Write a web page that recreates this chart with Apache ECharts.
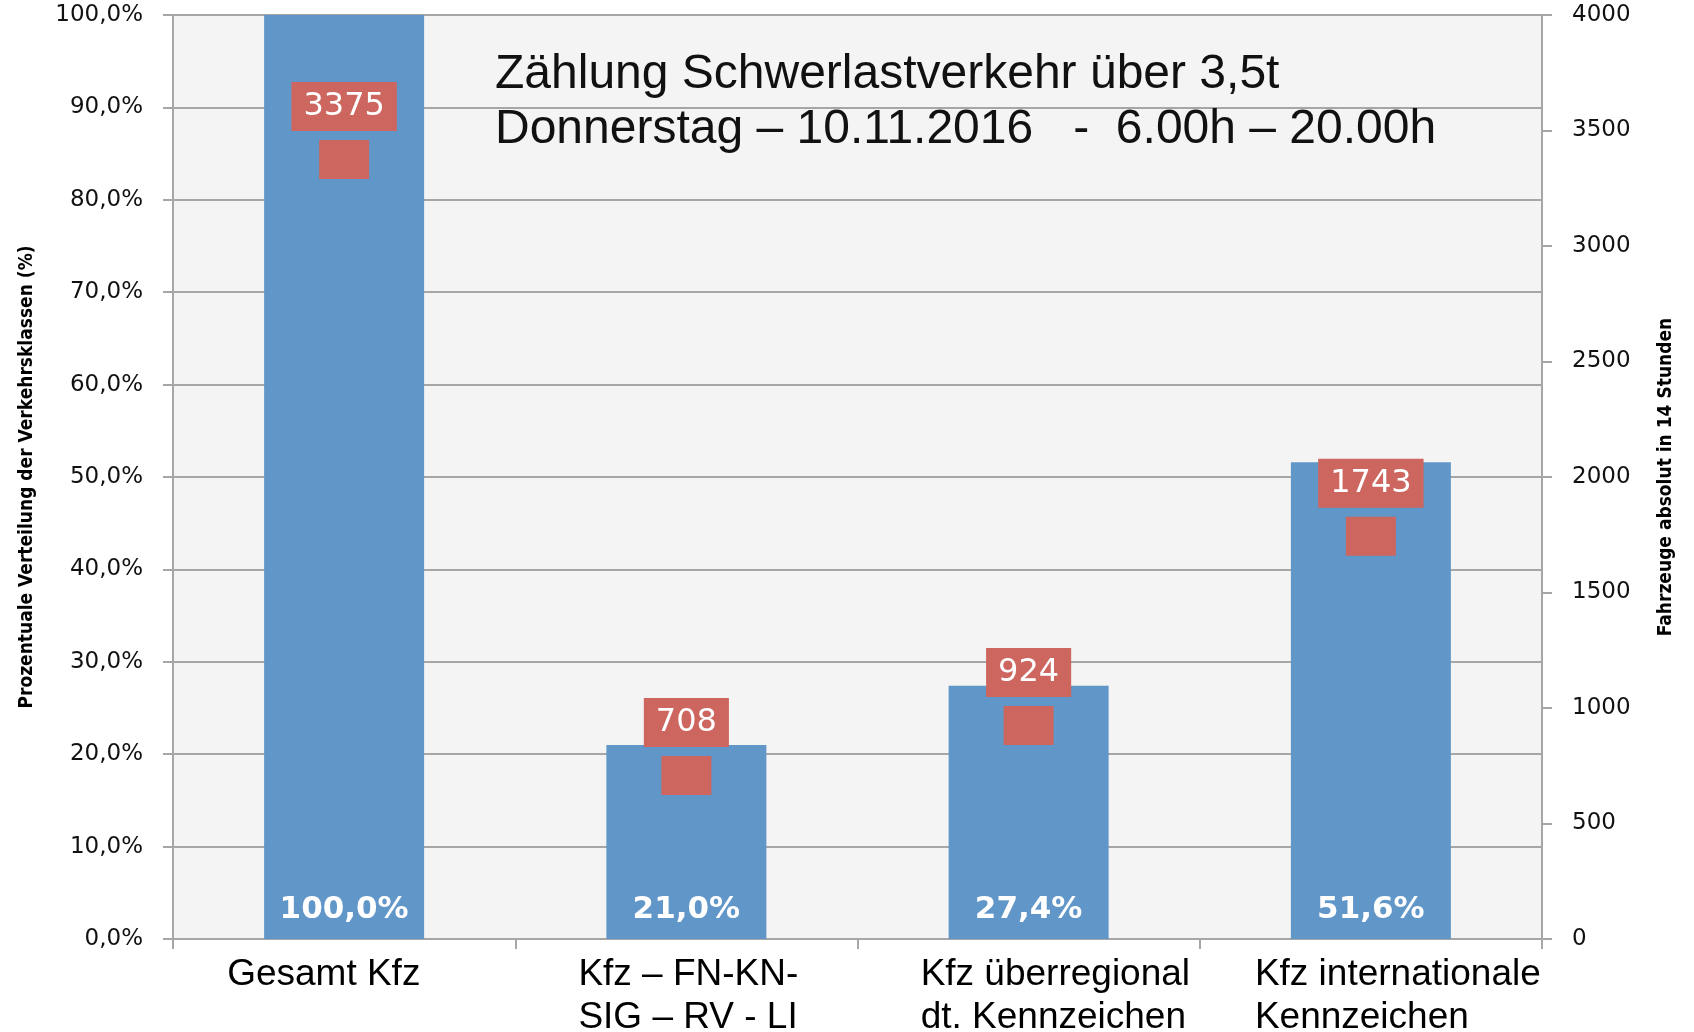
<!DOCTYPE html>
<html>
<head>
<meta charset="utf-8">
<script src="https://cdn.jsdelivr.net/npm/echarts@6/dist/echarts.min.js"></script>
<style>
  html, body { margin: 0; padding: 0; background: #ffffff; }
  #chart { width: 1694px; height: 1032px; }
</style>
</head>
<body>
<div id="chart"></div>
<script>
const categories = [
  'Gesamt Kfz',
  'Kfz \u2013 FN-KN-\nSIG \u2013 RV - LI',
  'Kfz \u00fcberregional\ndt. Kennzeichen',
  'Kfz internationale\nKennzeichen'
];
const percentValues = [100.0, 21.0, 27.4, 51.6];
const absoluteValues = [3375, 708, 924, 1743];
const titleLines = [
  'Z\u00e4hlung Schwerlastverkehr \u00fcber 3,5t',
  'Donnerstag \u2013 10.11.2016   -  6.00h \u2013 20.00h'
];
const leftAxisName = 'Prozentuale Verteilung der Verkehrsklassen (%)';
const rightAxisName = 'Fahrzeuge absolut in 14 Stunden';

// styling
const gridColor = '#A6A6A6';
const barColor = '#6196C8';
const markColor = '#CD665F';
const catFont = '37px "Liberation Sans"';
// horizontal nudges of the category text blocks (layout of the original text boxes)
const catLabelNudge = [-19, 3, 28, 28];

// measure widest line of each category so lines can be left-aligned in a centered block
const measureCtx = document.createElement('canvas').getContext('2d');
measureCtx.font = catFont;
function blockWidth(text) {
  return Math.max(...text.split('\n').map(s => measureCtx.measureText(s).width));
}
const catRich = {};
categories.forEach((c, i) => {
  const n = catLabelNudge[i];
  catRich['c' + i] = {
    width: Math.ceil(blockWidth(c)) + 2,
    align: 'left',
    fontFamily: 'Liberation Sans',
    fontSize: 37,
    lineHeight: 43,
    color: '#000000',
    padding: [0, n < 0 ? -2 * n : 0, 0, n > 0 ? 2 * n : 0]
  };
});

const chart = echarts.init(document.getElementById('chart'), null, { renderer: 'canvas' });
chart.setOption({
  backgroundColor: '#ffffff',
  animation: false,
  title: {
    text: titleLines.join('\n'),
    left: 490,
    top: 42,
    textStyle: {
      fontFamily: 'Liberation Sans',
      fontSize: 48,
      fontWeight: 'normal',
      color: '#111111',
      lineHeight: 55
    }
  },
  grid: {
    left: 173, right: 152, top: 15, bottom: 93,
    containLabel: false,
    outerBoundsMode: 'none',
    show: true, backgroundColor: '#F4F4F4', borderWidth: 0
  },
  xAxis: {
    type: 'category',
    data: categories,
    boundaryGap: true,
    axisLine: { lineStyle: { color: gridColor, width: 2 } },
    axisTick: { show: true, alignWithLabel: false, length: 10, lineStyle: { color: gridColor, width: 2 } },
    axisLabel: {
      interval: 0,
      margin: 14,
      fontFamily: 'Liberation Sans',
      fontSize: 37,
      lineHeight: 43,
      color: '#000000',
      formatter: (value, idx) => value.split('\n').map(s => '{c' + idx + '|' + s + '}').join('\n'),
      rich: catRich
    }
  },
  yAxis: [
    {
      type: 'value',
      min: 0, max: 100, interval: 10,
      name: leftAxisName,
      nameLocation: 'middle',
      nameRotate: 90,
      nameGap: 136,
      nameTextStyle: {
        fontFamily: '"DejaVu Sans Condensed", "Liberation Sans Narrow", "Liberation Sans"',
        fontWeight: 'bold',
        fontSize: 19,
        color: '#000000'
      },
      axisLine: { show: true, lineStyle: { color: gridColor, width: 2 } },
      axisTick: { show: true, length: 10, lineStyle: { color: gridColor, width: 2 } },
      splitLine: { show: true, lineStyle: { color: gridColor, width: 2 } },
      axisLabel: {
        margin: 30,
        fontFamily: 'DejaVu Sans',
        fontSize: 23,
        color: '#111111',
        formatter: v => v.toFixed(1).replace('.', ',') + '%'
      }
    },
    {
      type: 'value',
      min: 0, max: 4000, interval: 500,
      position: 'right',
      name: rightAxisName,
      nameLocation: 'middle',
      nameRotate: 90,
      nameGap: 115,
      nameTextStyle: {
        fontFamily: '"DejaVu Sans Condensed", "Liberation Sans Narrow", "Liberation Sans"',
        fontWeight: 'bold',
        fontSize: 19,
        color: '#000000'
      },
      axisLine: { show: true, lineStyle: { color: gridColor, width: 2 } },
      axisTick: { show: true, length: 10, lineStyle: { color: gridColor, width: 2 } },
      splitLine: { show: false },
      axisLabel: {
        margin: 30,
        fontFamily: 'DejaVu Sans',
        fontSize: 23,
        color: '#111111',
        formatter: v => String(v)
      }
    }
  ],
  series: [
    {
      type: 'bar',
      yAxisIndex: 0,
      data: percentValues,
      barWidth: 160,
      itemStyle: { color: barColor, opacity: 1 },
      emphasis: { disabled: true },
      z: 2,
      label: {
        show: true,
        position: 'insideBottom',
        distance: 14,
        fontFamily: 'DejaVu Sans',
        fontWeight: 'bold',
        fontSize: 31,
        color: '#ffffff',
        formatter: p => p.value.toFixed(1).replace('.', ',') + '%'
      }
    },
    {
      type: 'scatter',
      yAxisIndex: 1,
      data: absoluteValues,
      symbol: 'rect',
      symbolSize: [50, 39],
      itemStyle: { color: markColor, opacity: 1 },
      emphasis: { disabled: true },
      z: 5,
      label: {
        show: true,
        position: 'top',
        distance: 9,
        fontFamily: 'DejaVu Sans',
        fontSize: 32,
        lineHeight: 31,
        color: '#ffffff',
        backgroundColor: markColor,
        padding: [9, 12, 9, 12]
      }
    }
  ]
});
</script>
</body>
</html>
